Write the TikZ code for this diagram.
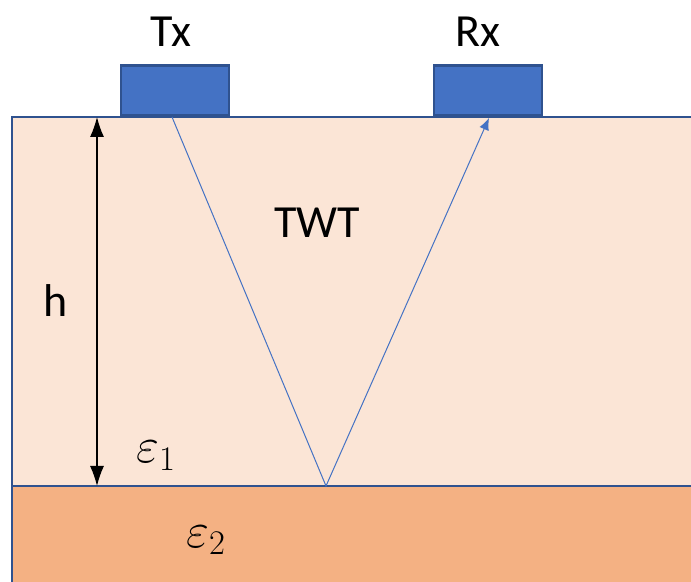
\documentclass[tikz,border=0pt]{standalone}
\usepackage{fontspec}
\setmainfont{Carlito}
\usetikzlibrary{arrows.meta}
\definecolor{layerone}{HTML}{FBE5D6}
\definecolor{layertwo}{HTML}{F4B183}
\definecolor{antblue}{HTML}{4472C4}
\definecolor{antedge}{HTML}{2F528F}

\begin{document}
\begin{tikzpicture}[x=0.5pt,y=-0.5pt,
  antenna/.style={draw=antedge, fill=antblue, line width=1.4pt, minimum width=54pt, minimum height=25pt, inner sep=0, anchor=south},
  lbl/.style={font=\fontsize{23}{27}\selectfont, inner sep=0, anchor=base},
  eps/.style={font=\fontsize{26}{30}\selectfont, inner sep=0, anchor=base west},
  ray/.style={draw=antblue, line width=0.5pt}
]
\useasboundingbox (0,0) rectangle (691,582);
\clip (0,0) rectangle (691,582);

% ground layers
\filldraw[fill=layerone, draw=antedge, line width=1pt] (12,117) rectangle (700,486);
\filldraw[fill=layertwo, draw=antedge, line width=1pt] (12,486) rectangle (700,600);

% antennas
\node[antenna] (tx) at (175,117) {};
\node[antenna] (rx) at (488,117) {};
\node[lbl] (txlbl) at (171,47) {Tx};
\node[lbl] (rxlbl) at (478,47) {Rx};

% ray path
\coordinate (txout) at (172,117);
\coordinate (refl) at (326,486);
\coordinate (rxin) at (489,118);
\draw[ray, -{Latex[length=6pt,width=5pt]}] (txout) -- (refl) -- (rxin);

% depth
\coordinate (htop) at (97,117);
\coordinate (hbot) at (97,486);
\draw[line width=0.6pt, {Latex[length=10pt,width=7pt]}-{Latex[length=10pt,width=7pt]}] (htop) -- (hbot);

\node[lbl] (hlbl) at (56,317) {h};
\node[lbl] (twt) at (317,238) {TWT};
\node[eps] (eps1) at (136,463) {$\varepsilon_1$};
\node[eps] (eps2) at (186,547) {$\varepsilon_2$};
\end{tikzpicture}
\end{document}
